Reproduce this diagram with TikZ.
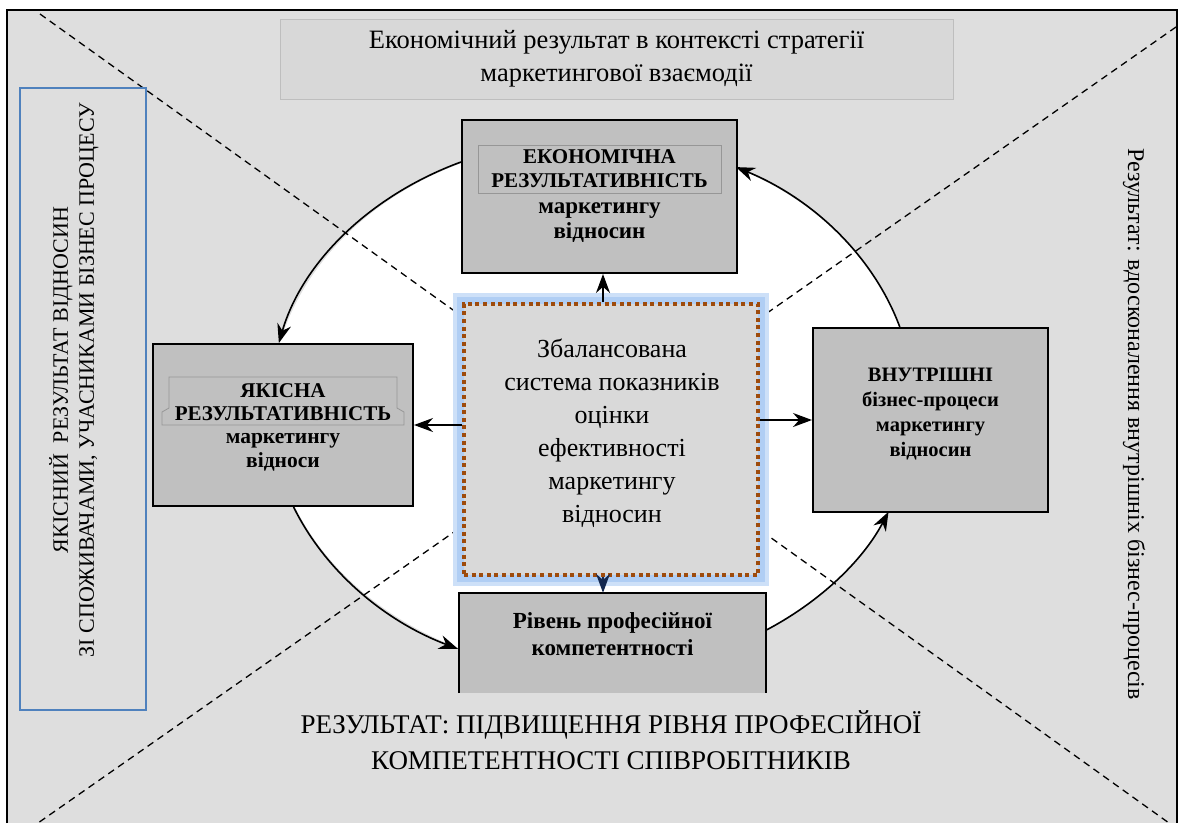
\documentclass[tikz,border=0pt]{standalone}
\usepackage{fontspec}
\setmainfont{Liberation Serif}
\usetikzlibrary{arrows.meta,calc}
\definecolor{bggray}{RGB}{222,222,222}
\definecolor{boxgray}{RGB}{192,192,192}
\definecolor{centerfill}{RGB}{217,217,217}
\definecolor{topfill}{RGB}{216,216,216}
\definecolor{topline}{RGB}{190,190,190}
\definecolor{innerline}{RGB}{150,150,150}
\definecolor{glowblue}{RGB}{176,206,244}
\definecolor{glowpale}{RGB}{205,224,248}
\definecolor{dotbrown}{RGB}{158,75,12}
\definecolor{bluebox}{RGB}{79,129,189}
\definecolor{navyarrow}{RGB}{20,40,80}
\begin{document}
\begin{tikzpicture}[x=1pt,y=-1pt,
  mainbox/.style={draw=black, line width=2pt, fill=boxgray, inner sep=0pt},
  titlebox/.style={draw=innerline, line width=0.8pt, fill=boxgray, inner sep=0pt, align=center, font=\fontsize{21}{24}\selectfont\bfseries},
  titleline/.style={draw=innerline, line width=0.8pt},
  boldtext/.style={align=center, inner sep=0pt, font=\fontsize{21.5}{24}\selectfont\bfseries},
  centerbox/.style={fill=centerfill, draw=dotbrown, line width=4pt, dash pattern=on 4pt off 3.6pt, inner sep=0pt,
     preaction={draw=glowpale, line width=22pt, rounded corners=10pt, solid},
     preaction={draw=glowblue, line width=14pt, rounded corners=7pt, solid}},
  compbox/.style={fill=boxgray, inner sep=0pt},
  topbox/.style={fill=topfill, draw=topline, line width=1pt, inner sep=0pt, align=center, font=\fontsize{26.5}{33}\selectfont},
  arr/.style={line width=1.5pt, -{Stealth[length=19pt,width=14pt]}},
  arcarr/.style={line width=1.6pt, -{Stealth[length=19pt,width=14pt]}},
  diag/.style={line width=1.3pt, dash pattern=on 7pt off 5pt}]
\useasboundingbox (0,0) rectangle (1181,823);
\fill[white] (0,0) rectangle (1181,823);
\fill[bggray] (7,10) rectangle (1177,823);
\draw[line width=2.5pt] (7,823) -- (7,10) -- (1177,10) -- (1177,823);

% white ellipse
\fill[white] (593,406) ellipse [x radius=322pt, y radius=266pt];

% dashed diagonals
\coordinate (dA1) at (40,14);
\coordinate (dA2) at (1169,823);
\coordinate (dB1) at (1176,27);
\coordinate (dB2) at (38,823);
\draw[diag] (dA1) -- (dA2);
\draw[diag] (dB1) -- (dB2);

% top box
\node[topbox, minimum width=673pt, minimum height=80pt] (topres) at (616.5,59)
  {Економічний результат в контексті стратегії\\маркетингової взаємодії};

% left blue box
\node[draw=bluebox, line width=1.3pt, minimum width=126pt, minimum height=622pt, inner sep=0pt] (leftbox) at (83,399) {};
\node[rotate=90, align=center, inner sep=0pt, font=\fontsize{22}{26}\selectfont] (lefttxt) at (74,380)
  {ЯКІСНИЙ~ РЕЗУЛЬТАТ ВІДНОСИН\\ЗІ СПОЖИВАЧАМИ, УЧАСНИКАМИ БІЗНЕС ПРОЦЕСУ};

% right text
\node[rotate=-90, inner sep=0pt, font=\fontsize{24}{26}\selectfont] (righttxt) at (1134,424)
  {Результат: вдосконалення внутрішніх бізнес-процесів};

% bottom text
\node[align=center, inner sep=0pt, font=\fontsize{27}{36}\selectfont] (bottomtxt) at (611,740)
  {РЕЗУЛЬТАТ: ПІДВИЩЕННЯ РІВНЯ ПРОФЕСІЙНОЇ\\КОМПЕТЕНТНОСТІ СПІВРОБІТНИКІВ};

% economic box
\node[mainbox, minimum width=275pt, minimum height=153pt] (econ) at (599.5,196.5) {};
\node[titlebox, minimum width=243pt, minimum height=48pt] (econtitle) at (599.5,169) {ЕКОНОМІЧНА\\РЕЗУЛЬТАТИВНІСТЬ};
\node[boldtext, font=\fontsize{23}{25}\selectfont\bfseries] (econsub) at (599.5,223) {маркетингу\\відносин};

% quality box
\node[mainbox, minimum width=260pt, minimum height=162pt] (quality) at (283,425) {};
\draw[titleline] (162,425) -- (162,412) -- (169,408) -- (169,377) -- (397,377) -- (397,408) -- (404,412) -- (404,425) -- cycle;
\node[boldtext, font=\fontsize{21}{23.5}\selectfont\bfseries] (qualitytitle) at (283,402) {ЯКІСНА\\РЕЗУЛЬТАТИВНІСТЬ};
\node[boldtext] (qualitysub) at (283,452) {маркетингу\\відноси};

% internal processes box
\node[mainbox, minimum width=235pt, minimum height=184pt] (inner) at (930.5,420) {};
\node[boldtext, font=\fontsize{20.5}{25}\selectfont\bfseries] (innertxt) at (930.5,414.5)
  {ВНУТРІШНІ\\бізнес-процеси\\маркетингу\\відносин};

% competence box (open at the bottom)
\node[compbox, minimum width=307pt, minimum height=100pt] (comp) at (612.5,643) {};
\draw[line width=2pt] (comp.south west) -- (comp.north west) -- (comp.north east) -- (comp.south east);
\node[boldtext, font=\fontsize{23}{27}\selectfont\bfseries] (comptxt) at (612.5,634) {Рівень професійної\\компетентності};

% centre box
\node[centerbox, minimum width=294pt, minimum height=271pt] (center) at (611,439.5) {};
\node[align=center, inner sep=0pt, font=\fontsize{26}{33}\selectfont] (centertxt) at (612,433)
  {Збалансована\\система показників\\оцінки\\ефективності\\маркетингу\\відносин};

% straight arrows
\draw[arr] ([xshift=-8pt]center.north) -- ([xshift=-8pt]center.north |- econ.south);
\draw[arr] (center.west |- quality.east) -- (quality.east);
\draw[arr] (center.east |- inner.west) -- (inner.west);
\draw[arr, navyarrow] ([xshift=-8pt]center.south) -- ([xshift=-8pt]center.south |- comp.north);

% cycle arcs
\draw[arcarr] ($(econ.north west)+(0,43)$) arc[start angle=114, end angle=166.52, x radius=322pt, y radius=266pt];
\draw[arcarr] ($(quality.south west)+(141.6,0)$) arc[start angle=-157.92, end angle=-114.59, x radius=322pt, y radius=266pt];
\draw[arcarr] ($(comp.north east)+(0,37.3)$) arc[start angle=-57.5, end angle=-23.48, x radius=322pt, y radius=266pt];
\draw[arcarr] ($(inner.north west)+(87.8,0)$) arc[start angle=17.05, end angle=63.43, x radius=322pt, y radius=266pt];
\end{tikzpicture}
\end{document}
